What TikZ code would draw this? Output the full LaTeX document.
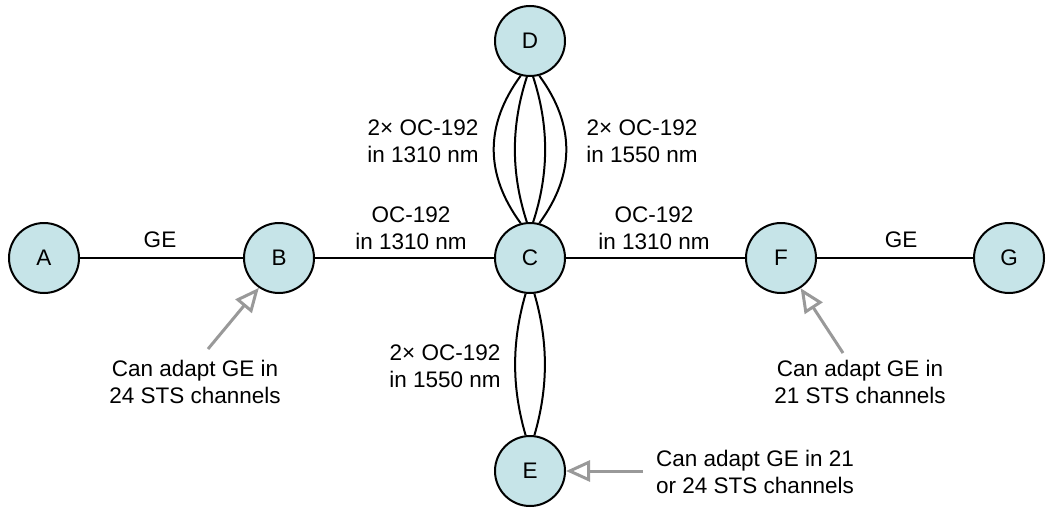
\documentclass[tikz,border=0pt]{standalone}
\usepackage{fontspec}
\setmainfont{Liberation Sans}
\usetikzlibrary{arrows.meta}
\definecolor{nodefill}{HTML}{C6E4E8}
\definecolor{anngray}{HTML}{999999}
\begin{document}
\begin{tikzpicture}[x=1pt,y=-1pt,
  nd/.style={circle,draw=black,line width=2pt,fill=nodefill,minimum size=70pt,inner sep=0pt,font=\fontsize{22.5}{27}\selectfont},
  lbl/.style={align=center,inner sep=0pt,font=\fontsize{22.5}{27}\selectfont},
  link/.style={line width=2pt,draw=black},
  ann/.style={draw=anngray,line width=3pt,-{Triangle[open,length=24pt,width=21pt]}}]
\useasboundingbox (0,0) rectangle (1046,508);
% nodes
\node[nd] (A) at (44,258) {A};
\node[nd] (B) at (279,258) {B};
\node[nd] (C) at (530,258) {C};
\node[nd] (D) at (530,41) {D};
\node[nd] (E) at (530,471) {E};
\node[nd] (F) at (781,258) {F};
\node[nd] (G) at (1009,258) {G};
% horizontal links
\draw[link] (A) -- (B);
\draw[link] (B) -- (C);
\draw[link] (C) -- (F);
\draw[link] (F) -- (G);
% D-C four links
\draw[link] (D.-105) .. controls +(-36,49) and +(-36,-49) .. (C.105);
\draw[link] (D.-95) .. controls +(-16,49) and +(-16,-49) .. (C.95);
\draw[link] (D.-85) .. controls +(16,49) and +(16,-49) .. (C.85);
\draw[link] (D.-75) .. controls +(36,49) and +(36,-49) .. (C.75);
% C-E two links
\draw[link] (C.-97) .. controls +(-14,48) and +(-14,-48) .. (E.97);
\draw[link] (C.-83) .. controls +(14,48) and +(14,-48) .. (E.83);
% labels
\node[lbl] (lGEa) at (160,240) {GE};
\node[lbl] (lGEb) at (901,240) {GE};
\node[lbl] (lBC) at (411,228) {OC-192\\in 1310 nm};
\node[lbl] (lCF) at (654,228) {OC-192\\in 1310 nm};
\node[lbl] (lDl) at (423,141) {2× OC-192\\in 1310 nm};
\node[lbl] (lDr) at (642,141) {2× OC-192\\in 1550 nm};
\node[lbl] (lE) at (445,366) {2× OC-192\\in 1550 nm};
% annotations
\node[lbl] (nB) at (195,382) {Can adapt GE in\\24 STS channels};
\node[lbl] (nF) at (860,382) {Can adapt GE in\\21 STS channels};
\node[lbl,align=left,anchor=west] (nE) at (656,472) {Can adapt GE in 21\\or 24 STS channels};
\coordinate (tB) at (208,349);
\coordinate (tF) at (843,353);
\coordinate (tE) at (643,471);
\draw[ann] (tB) -- (B.-124);
\draw[ann] (tF) -- (F.-57);
\draw[ann] (tE) -- (E.east);
\end{tikzpicture}
\end{document}
